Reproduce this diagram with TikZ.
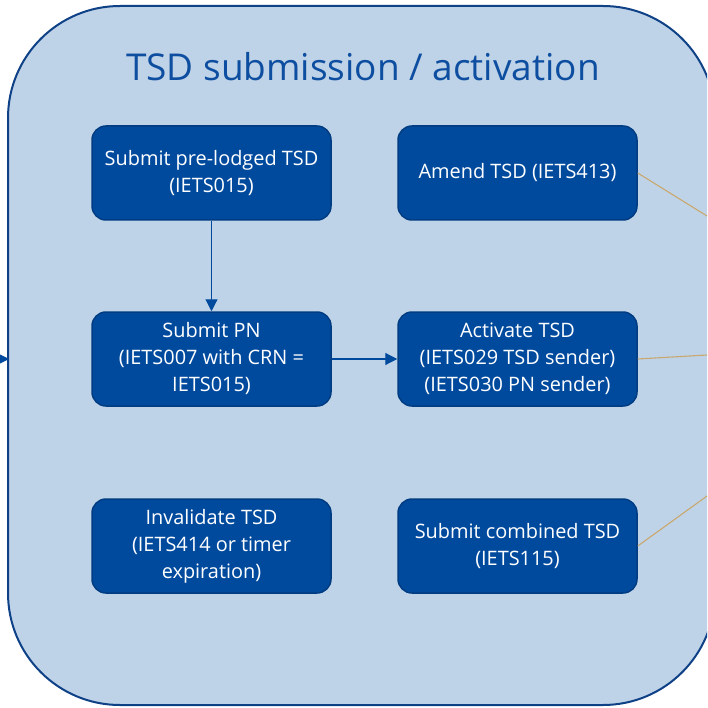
\documentclass[tikz,border=0pt]{standalone}
\usepackage{fontspec}
\setmainfont{Open Sans}
\usetikzlibrary{arrows.meta}
\definecolor{framefill}{RGB}{191,211,232}
\definecolor{frameline}{RGB}{15,65,135}
\definecolor{boxfill}{RGB}{0,74,158}
\definecolor{boxline}{RGB}{0,60,130}
\definecolor{titleblue}{RGB}{14,78,160}
\definecolor{tanline}{RGB}{200,168,110}
\tikzset{
  stepbox/.style={draw=boxline, line width=1.5pt, fill=boxfill, rounded corners=14pt,
    minimum width=239pt, minimum height=94pt, text=white, align=center,
    font=\fontsize{19.9}{27}\selectfont, inner sep=0pt},
  flow/.style={draw=boxfill, line width=1.2pt, -{Triangle[length=12pt,width=12pt]}},
  link/.style={draw=tanline, line width=1.1pt}
}
\begin{document}
\begin{tikzpicture}[x=1pt,y=-1pt]
\useasboundingbox (0,0) rectangle (707,708);
\begin{scope}
\clip (0,0) rectangle (707,708);
\draw[draw=frameline, line width=2pt, fill=framefill, rounded corners=112pt] (8,6) rectangle (715,705);
\end{scope}
\node[text=titleblue, font=\fontsize{37}{44}\selectfont] (title) at (363,67) {TSD submission / activation};
\node[stepbox] (b1) at (211.5,173) {Submit pre-lodged TSD\\(IETS015)};
\node[stepbox] (b2) at (517.5,173) {Amend TSD (IETS413)};
\node[stepbox] (b3) at (211.5,359) {Submit PN\\(IETS007 with CRN =\\IETS015)};
\node[stepbox] (b4) at (517.5,359) {Activate TSD\\(IETS029 TSD sender)\\(IETS030 PN sender)};
\node[stepbox] (b5) at (211.5,546) {Invalidate TSD\\(IETS414 or timer\\expiration)};
\node[stepbox] (b6) at (517.5,546) {Submit combined TSD\\(IETS115)};
\coordinate (lin) at (0,359);
\coordinate (lend) at (9,359);
\coordinate (r2) at (707,216);
\coordinate (r4) at (707,355);
\coordinate (r6) at (707,496);
\draw[flow] (b1) -- (b3);
\draw[flow] (b3) -- (b4);
\draw[flow] (lin) -- (lend);
\draw[link] (b2.east) -- (r2);
\draw[link] (b4.east) -- (r4);
\draw[link] (b6.east) -- (r6);
\end{tikzpicture}
\end{document}
